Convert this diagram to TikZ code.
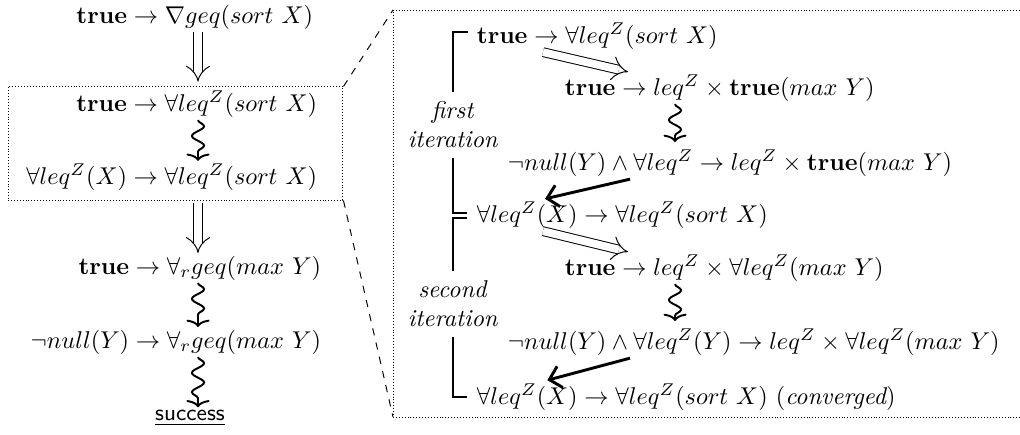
\documentclass[tikz,border=0pt]{standalone}
\usetikzlibrary{arrows.meta,decorations.pathmorphing,calc}
\begin{document}
\begin{tikzpicture}[x=0.412pt,y=-0.412pt,
  txt/.style={inner sep=1pt},
  lbl/.style={inner sep=4pt,align=center},
  dbl/.style={double,double distance=3.2pt,line width=0.4pt,-{Implies[scale=1.5]}},
  sq/.style={line width=0.8pt,-{To[length=3pt,width=9.5pt]},decorate,
     decoration={snake,amplitude=2.5pt,segment length=8pt,post length=3pt}},
  thk/.style={line width=1.2pt,-{Straight Barb[length=4.5pt,width=9pt]}},
  boxdots/.style={line width=0.4pt,dash pattern=on 0.4pt off 0.8pt},
  zoomline/.style={line width=0.4pt,dash pattern=on 3pt off 3pt},
  brk/.style={line width=0.5pt}]
\useasboundingbox (0,0) rectangle (1020,434);
% column coordinates
\coordinate (cL) at (198,0);
\coordinate (cR) at (675,0);
\coordinate (dA) at (543,0);
\coordinate (dB) at (628,0);
\coordinate (tA) at (630,0);
\coordinate (tB) at (545,0);
\coordinate (bx) at (453,0);
% left column
\node[txt,anchor=east] (L1) at (316,17) {$\mathbf{true}\rightarrow\nabla geq(sort\ X)$};
\node[draw,boxdots,minimum width=138pt,minimum height=46.6pt,inner sep=0pt] (boxL) at (175.5,143.5) {};
\node[txt,anchor=east] (L2) at (320,104) {$\mathbf{true}\rightarrow\forall leq^Z(sort\ X)$};
\node[txt,anchor=east] (L3) at (320,177) {$\forall leq^Z(X)\rightarrow\forall leq^Z(sort\ X)$};
\node[txt,anchor=east] (L4) at (324,268) {$\mathbf{true}\rightarrow\forall_r geq(max\ Y)$};
\node[txt,anchor=east] (L5) at (324,342) {$\neg null(Y)\rightarrow\forall_r geq(max\ Y)$};
\node[txt,font=\fontsize{9.3}{11}\sffamily] (S) at (190,418) {\underline{success}};
\draw[dbl,shorten >=2pt] (L1.south -| cL) -- (boxL.north -| cL);
\draw[sq] (L2.south -| cL) -- (L3.north -| cL);
\draw[dbl,shorten <=1pt] (boxL.south -| cL) -- (L4.north -| cL);
\draw[sq] (L4.south -| cL) -- (L5.north -| cL);
\draw[sq] (L5.south -| cL) -- (S.north -| cL);
% zoom
\coordinate (rTL) at (393,10);
\coordinate (rBL) at (393,417);
\draw[boxdots] (1020,10) -- (rTL) -- (rBL) -- (1020,417);
\draw[zoomline] (boxL.north east) -- (rTL);
\draw[zoomline] (boxL.south east) -- (rBL);
% right column
\node[txt,anchor=west] (R1) at (474,36) {$\mathbf{true}\rightarrow\forall leq^Z(sort\ X)$};
\node[txt,anchor=west] (R2) at (562,88) {$\mathbf{true}\rightarrow leq^Z\times\mathbf{true}(max\ Y)$};
\node[txt,anchor=west] (R3) at (505,163) {$\neg null(Y)\wedge\forall leq^Z\rightarrow leq^Z\times\mathbf{true}(max\ Y)$};
\node[txt,anchor=west] (R4) at (474,215) {$\forall leq^Z(X)\rightarrow\forall leq^Z(sort\ X)$};
\node[txt,anchor=west] (R5) at (562,268) {$\mathbf{true}\rightarrow leq^Z\times\forall leq^Z(max\ Y)$};
\node[txt,anchor=west] (R6) at (505,342) {$\neg null(Y)\wedge\forall leq^Z(Y)\rightarrow leq^Z\times\forall leq^Z(max\ Y)$};
\node[txt,anchor=west] (R7) at (474,397) {$\forall leq^Z(X)\rightarrow\forall leq^Z(sort\ X)\ (\textit{converged})$};
\node[lbl] (I1) at (453,125) {\textit{first}\\\textit{iteration}};
\node[lbl] (I2) at (453,304) {\textit{second}\\\textit{iteration}};
\draw[dbl] (R1.south -| dA) -- (R2.north -| dB);
\draw[sq,shorten >=2pt] (R2.south -| cR) -- (R3.north -| cR);
\draw[thk] (R3.south -| tA) -- (R4.north -| tB);
\draw[dbl] (R4.south -| dA) -- (R5.north -| dB);
\draw[sq,shorten >=2pt] (R5.south -| cR) -- (R6.north -| cR);
\draw[thk,shorten >=1pt] (R6.south -| tA) -- (R7.north -| tB);
% brackets
\draw[brk] (468,32) -- (453,32) -- (I1.north -| bx);
\draw[brk] (I1.south -| bx) -- (453,213) -- (467,213);
\draw[brk] (467,218) -- (453,218) -- (I2.north -| bx);
\draw[brk] (I2.south -| bx) -- (453,397) -- (467,397);
\end{tikzpicture}
\end{document}
